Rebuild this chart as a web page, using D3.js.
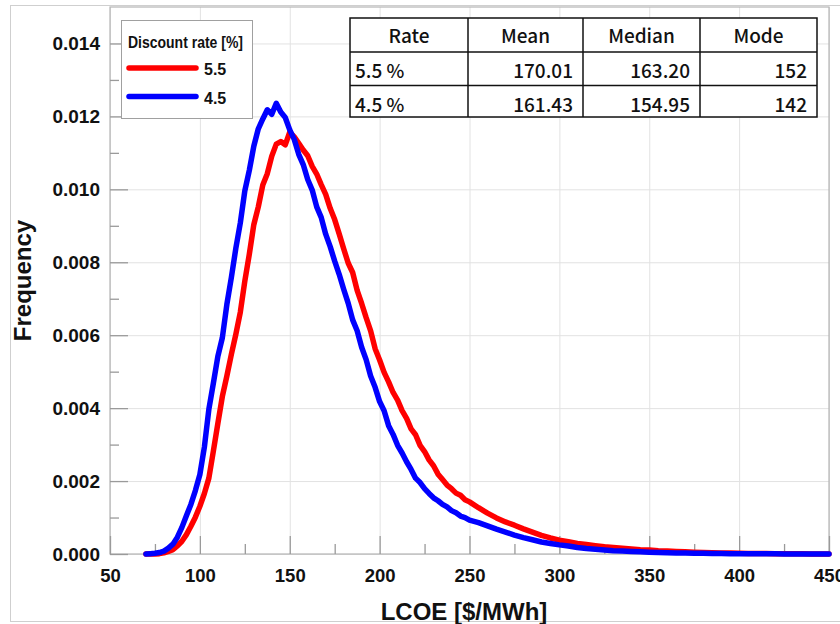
<!DOCTYPE html>
<html lang="en">
<head>
    <meta charset="UTF-8">
    <title>LCOE frequency distribution</title>
    <script src="https://d3js.org/d3.v7.min.js"></script>
    <style>
        body {
            margin: 0;
            background: #fff;
        }
        svg {
            display: block;
        }
        .axis-label {
            font-family: "Liberation Sans", Arial, sans-serif;
            font-weight: bold;
            fill: #111;
        }
        .table-text {
            font-family: "Noto Sans CJK KR", "Noto Sans", sans-serif;
            font-weight: 500;
            font-size: 19px;
            fill: #111;
        }
    </style>
</head>
<body>
    <div id="chart"></div>

    <script>
        // LCOE bins [$/MWh]
        const lcoe = [
            70, 72.5, 75, 77.5, 80, 82.5, 85, 87.5, 90, 92.5, 95, 97.5,
            100, 102.5, 105, 107.5, 110, 112.5, 115, 117.5, 120, 122.5, 125, 127.5,
            130, 132.5, 135, 137.5, 140, 142.5, 145, 147.5, 150, 152.5, 155, 157.5,
            160, 162.5, 165, 167.5, 170, 172.5, 175, 177.5, 180, 182.5, 185, 187.5,
            190, 192.5, 195, 197.5, 200, 202.5, 205, 207.5, 210, 212.5, 215, 217.5,
            220, 222.5, 225, 227.5, 230, 232.5, 235, 237.5, 240, 242.5, 245, 247.5, 250,
            255, 260, 265, 270, 275, 280, 285, 290, 295, 300,
            305, 310, 315, 320, 325, 330, 335, 340, 345, 350,
            355, 360, 365, 370, 375, 380, 385, 390, 395, 400,
            405, 410, 415, 420, 425, 430, 435, 440, 445, 450
        ];

        // frequency, in units of 1e-3, discount rate 5.5 %
        const freq55 = [
            0.00, 0.00, 0.00, 0.01, 0.03, 0.07, 0.12, 0.22, 0.35, 0.53, 0.76, 1.01,
            1.31, 1.66, 2.08, 2.82, 3.58, 4.32, 4.88, 5.47, 6.02, 6.63, 7.48, 8.22,
            9.03, 9.52, 10.12, 10.43, 10.91, 11.24, 11.31, 11.22, 11.57, 11.44, 11.26, 11.08,
            10.92, 10.63, 10.42, 10.13, 9.86, 9.48, 9.17, 8.78, 8.37, 7.98, 7.72, 7.23,
            6.87, 6.48, 6.12, 5.63, 5.32, 4.98, 4.72, 4.43, 4.22, 3.93, 3.72, 3.43,
            3.27, 2.98, 2.81, 2.58, 2.42, 2.19, 2.04, 1.89, 1.79, 1.67, 1.61, 1.49, 1.43,
            1.27, 1.12, 0.99, 0.88, 0.79, 0.69, 0.60, 0.51, 0.44, 0.38,
            0.34, 0.29, 0.26, 0.23, 0.20, 0.18, 0.16, 0.14, 0.12, 0.11,
            0.09, 0.08, 0.07, 0.06, 0.05, 0.04, 0.035, 0.03, 0.025, 0.02,
            0.017, 0.014, 0.012, 0.01, 0.008, 0.006, 0.004, 0.003, 0.002, 0.001
        ];

        // frequency, in units of 1e-3, discount rate 4.5 %
        const freq45 = [
            0.00, 0.01, 0.02, 0.04, 0.08, 0.16, 0.27, 0.46, 0.73, 1.05, 1.36, 1.74,
            2.18, 2.93, 3.97, 4.68, 5.42, 5.93, 6.84, 7.58, 8.38, 9.08, 9.96, 10.52,
            11.18, 11.66, 11.93, 12.18, 12.06, 12.36, 12.12, 11.97, 11.63, 11.37, 10.96, 10.68,
            10.27, 9.98, 9.52, 9.23, 8.77, 8.43, 8.03, 7.67, 7.26, 6.88, 6.42, 6.12,
            5.67, 5.33, 4.88, 4.57, 4.18, 3.93, 3.52, 3.28, 2.98, 2.77, 2.53, 2.32,
            2.08, 1.96, 1.79, 1.66, 1.54, 1.46, 1.36, 1.29, 1.19, 1.13, 1.04, 1.00, 0.93,
            0.86, 0.77, 0.68, 0.60, 0.52, 0.45, 0.39, 0.33, 0.29, 0.25,
            0.22, 0.18, 0.15, 0.13, 0.11, 0.09, 0.08, 0.07, 0.06, 0.05,
            0.04, 0.035, 0.03, 0.025, 0.02, 0.018, 0.015, 0.012, 0.01, 0.01,
            0.008, 0.006, 0.005, 0.004, 0.003, 0.002, 0.002, 0.001, 0.001, 0.00
        ];

        const seriesNames = ["5.5", "4.5"];
        const seriesColors = ["#ff0000", "#0000ff"];

        const xMajorTicks = [50, 100, 150, 200, 250, 300, 350, 400, 450];
        const xMinorTicks = [75, 125, 175, 225, 275, 325, 375, 425];
        const yMajorTicks = [0, 2, 4, 6, 8, 10, 12, 14];
        const yMinorTicks = [1, 3, 5, 7, 9, 11, 13];

        const tableHeader = ["Rate", "Mean", "Median", "Mode"];
        const tableRows = [
            ["5.5 %", "170.01", "163.20", "152"],
            ["4.5 %", "161.43", "154.95", "142"]
        ];

        const W = 840, H = 624;
        const plot = { left: 110, right: 829, top: 7, bottom: 554 };

        const svg = d3.select("#chart").append("svg")
            .attr("width", W)
            .attr("height", H);

        // figure border
        svg.append("rect")
            .attr("x", 10.5).attr("y", 5.5)
            .attr("width", W).attr("height", 616)
            .attr("fill", "#fff")
            .attr("stroke", "#cfcfcf");

        const x = d3.scaleLinear().domain([50, 450]).range([plot.left, plot.right]);
        const y = d3.scaleLinear().domain([0, 15]).range([plot.bottom, plot.top]);
        const pw = plot.right - plot.left;
        const ph = plot.bottom - plot.top;

        // grid lines
        svg.append("g")
            .attr("transform", `translate(0,${plot.bottom})`)
            .call(d3.axisBottom(x).tickValues(xMajorTicks).tickSize(-ph).tickFormat(""))
            .call(g => g.select(".domain").remove())
            .call(g => g.selectAll("line").attr("stroke", "#e2e2e2"));
        svg.append("g")
            .attr("transform", `translate(${plot.left},0)`)
            .call(d3.axisLeft(y).tickValues(yMajorTicks).tickSize(-pw).tickFormat(""))
            .call(g => g.select(".domain").remove())
            .call(g => g.selectAll("line").attr("stroke", "#e2e2e2"));

        // plot frame
        svg.append("rect")
            .attr("x", plot.left).attr("y", plot.top)
            .attr("width", pw).attr("height", ph)
            .attr("fill", "none")
            .attr("stroke", "#b5b5b5")
            .attr("stroke-width", 1.2);

        // minor ticks (inward)
        svg.append("g")
            .attr("transform", `translate(0,${plot.bottom})`)
            .call(d3.axisBottom(x).tickValues(xMinorTicks).tickSize(-10).tickFormat(""))
            .call(g => g.select(".domain").remove())
            .call(g => g.selectAll("line").attr("stroke", "#9a9a9a").attr("stroke-width", 1.3));
        svg.append("g")
            .attr("transform", `translate(${plot.left},0)`)
            .call(d3.axisLeft(y).tickValues(yMinorTicks).tickSize(-9).tickFormat(""))
            .call(g => g.select(".domain").remove())
            .call(g => g.selectAll("line").attr("stroke", "#9a9a9a").attr("stroke-width", 1.3));

        // major ticks + labels
        svg.append("g")
            .attr("transform", `translate(0,${plot.bottom})`)
            .call(d3.axisBottom(x).tickValues(xMajorTicks).tickSize(-18).tickPadding(15).tickFormat(d3.format("d")))
            .call(g => g.select(".domain").remove())
            .call(g => g.selectAll("line").attr("stroke", "#9a9a9a").attr("stroke-width", 1.3))
            .call(g => g.selectAll("text")
                .attr("class", "axis-label")
                .style("font-size", "18.5px"));
        svg.append("g")
            .attr("transform", `translate(${plot.left},0)`)
            .call(d3.axisLeft(y).tickValues(yMajorTicks).tickSize(-18).tickPadding(10)
                .tickFormat(d => (d / 1000).toFixed(3)))
            .call(g => g.select(".domain").remove())
            .call(g => g.selectAll("line").attr("stroke", "#9a9a9a").attr("stroke-width", 1.3))
            .call(g => g.selectAll("text")
                .attr("class", "axis-label")
                .style("font-size", "19px"));

        // axis titles
        svg.append("text")
            .attr("class", "axis-label")
            .attr("x", 464).attr("y", 620)
            .attr("text-anchor", "middle")
            .style("font-size", "24px")
            .text("LCOE [$/MWh]");
        svg.append("text")
            .attr("class", "axis-label")
            .attr("transform", `translate(31,${(plot.top + plot.bottom) / 2}) rotate(-90)`)
            .attr("text-anchor", "middle")
            .style("font-size", "24px")
            .text("Frequency");

        // curves: red first, blue on top
        const series = [freq55, freq45];
        const line = d3.line()
            .x((d, i) => x(lcoe[i]))
            .y(d => y(d));
        series.forEach((vals, k) => {
            svg.append("path")
                .datum(vals)
                .attr("fill", "none")
                .attr("stroke", seriesColors[k])
                .attr("stroke-width", 5.5)
                .attr("stroke-linejoin", "round")
                .attr("stroke-linecap", "round")
                .attr("d", line);
        });

        // legend
        const lg = svg.append("g").attr("transform", "translate(121,20)");
        lg.append("rect")
            .attr("x", 0.5).attr("y", 0.5)
            .attr("width", 131).attr("height", 98)
            .attr("fill", "#fff")
            .attr("stroke", "#a0a0a0");
        lg.append("text")
            .attr("class", "axis-label")
            .attr("x", 7).attr("y", 28)
            .attr("textLength", 115)
            .attr("lengthAdjust", "spacingAndGlyphs")
            .style("font-size", "16px")
            .text("Discount rate [%]");
        seriesNames.forEach((name, k) => {
            const ly = 48 + k * 28.5;
            lg.append("line")
                .attr("x1", 8).attr("x2", 75)
                .attr("y1", ly).attr("y2", ly)
                .attr("stroke", seriesColors[k])
                .attr("stroke-width", 5.5)
                .attr("stroke-linecap", "round");
            lg.append("text")
                .attr("class", "axis-label")
                .attr("x", 83).attr("y", ly + 7)
                .style("font-size", "16px")
                .text(name);
        });

        // statistics table
        const colEdges = [350, 468, 583, 700, 817];
        const rowEdges = [18, 52, 85.5, 117];
        const tb = svg.append("g");
        tb.append("rect")
            .attr("x", colEdges[0]).attr("y", rowEdges[0])
            .attr("width", colEdges[4] - colEdges[0])
            .attr("height", rowEdges[3] - rowEdges[0])
            .attr("fill", "#fff")
            .attr("stroke", "#111")
            .attr("stroke-width", 1.5);
        colEdges.slice(1, 4).forEach(cx => {
            tb.append("line")
                .attr("x1", cx).attr("x2", cx)
                .attr("y1", rowEdges[0]).attr("y2", rowEdges[3])
                .attr("stroke", "#111").attr("stroke-width", 1.5);
        });
        rowEdges.slice(1, 3).forEach(ry => {
            tb.append("line")
                .attr("x1", colEdges[0]).attr("x2", colEdges[4])
                .attr("y1", ry).attr("y2", ry)
                .attr("stroke", "#111").attr("stroke-width", 1.5);
        });
        tableHeader.forEach((h, c) => {
            tb.append("text")
                .attr("class", "table-text")
                .attr("x", (colEdges[c] + colEdges[c + 1]) / 2)
                .attr("y", 43)
                .attr("text-anchor", "middle")
                .text(h);
        });
        tableRows.forEach((row, r) => {
            const by = [78, 111.5][r];
            row.forEach((cell, c) => {
                tb.append("text")
                    .attr("class", "table-text")
                    .attr("x", c === 0 ? colEdges[0] + 5 : colEdges[c + 1] - 10)
                    .attr("y", by)
                    .attr("text-anchor", c === 0 ? "start" : "end")
                    .text(cell);
            });
        });
    </script>
</body>
</html>
